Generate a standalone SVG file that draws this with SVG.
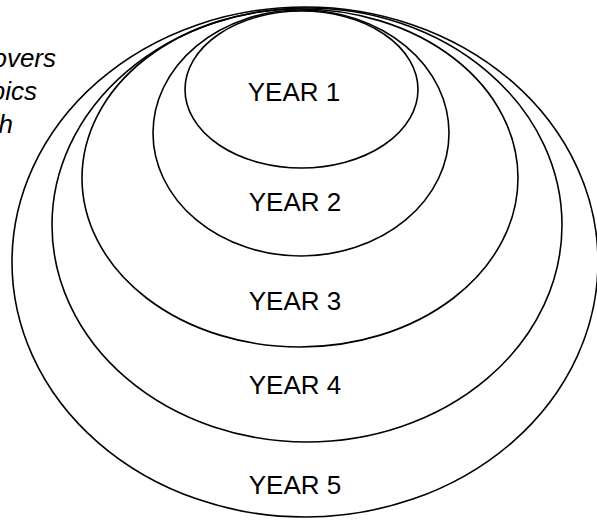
<svg xmlns="http://www.w3.org/2000/svg" width="597" height="531" viewBox="0 0 597 531">
<style>
.ring{fill:none;stroke:#000;stroke-width:1.6}
.lbl{font-family:"Liberation Sans",Arial,sans-serif;font-size:26px;fill:#000;text-anchor:middle}
.note{font-family:"Liberation Sans",Arial,sans-serif;font-size:26px;font-style:italic;fill:#000;text-anchor:end}
</style>
<rect width="597" height="531" fill="#fff"/>
<g id="connectors"></g>
<g id="year5"><ellipse class="ring" cx="305" cy="262" rx="293" ry="255"/><text class="lbl" x="295" y="494">YEAR 5</text></g>
<g id="year4"><ellipse class="ring" cx="307" cy="225" rx="255" ry="217"/><text class="lbl" x="295" y="394">YEAR 4</text></g>
<g id="year3"><ellipse class="ring" cx="300" cy="178" rx="218" ry="169"/><text class="lbl" x="295" y="310">YEAR 3</text></g>
<g id="year2"><ellipse class="ring" cx="301" cy="133" rx="148" ry="123"/><text class="lbl" x="295" y="211">YEAR 2</text></g>
<g id="year1"><ellipse class="ring" cx="301.5" cy="89.5" rx="116.5" ry="78.5"/><text class="lbl" x="294" y="101">YEAR 1</text></g>
<g id="note">
<text class="note" x="56" y="67">overs</text>
<text class="note" x="37" y="100">pics</text>
<text class="note" x="13" y="133">th</text>
</g>
</svg>
